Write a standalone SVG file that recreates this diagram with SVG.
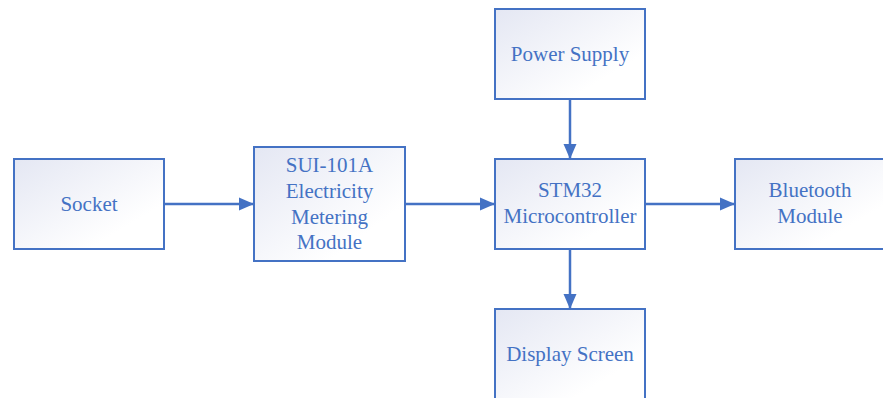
<svg xmlns="http://www.w3.org/2000/svg" width="883" height="398" viewBox="0 0 883 398">
<defs>
<linearGradient id="g" x1="0" y1="0" x2="1" y2="1">
<stop offset="0" stop-color="#e4e7f3"/>
<stop offset="0.75" stop-color="#ffffff"/>
</linearGradient>
<marker id="ah" markerUnits="userSpaceOnUse" markerWidth="15" markerHeight="15" viewBox="0 0 15 15" refX="15" refY="7.5" orient="auto">
<path d="M0,1 L15,7.5 L0,14 Z" fill="#4472c4"/>
</marker>
<style>
.box{fill:url(#g);stroke:#4472c4;stroke-width:2}
.t{font-family:"Liberation Serif","Times New Roman",serif;font-size:21px;fill:#4472c4;text-anchor:middle}
.c{stroke:#4472c4;stroke-width:2.5;fill:none;marker-end:url(#ah)}
</style>
</defs>
<rect width="883" height="398" fill="#ffffff"/>
<g id="socket"><rect class="box" x="14" y="159" width="150" height="90"/><text class="t" x="89" y="211">Socket</text></g>
<g id="sui"><rect class="box" x="254" y="147" width="151" height="114"/>
<text class="t" x="329.5" y="172">SUI-101A</text><text class="t" x="329.5" y="198">Electricity</text><text class="t" x="329.5" y="224">Metering</text><text class="t" x="329.5" y="249">Module</text></g>
<g id="power"><rect class="box" x="495" y="9" width="150" height="90"/><text class="t" x="570" y="61">Power Supply</text></g>
<g id="stm32"><rect class="box" x="495" y="159" width="150" height="90"/><text class="t" x="570" y="197">STM32</text><text class="t" x="570" y="223">Microcontroller</text></g>
<g id="bluetooth"><rect class="box" x="735" y="159" width="152" height="90"/><text class="t" x="810" y="197">Bluetooth</text><text class="t" x="810" y="223">Module</text></g>
<g id="display"><rect class="box" x="495" y="309" width="150" height="92"/><text class="t" x="570" y="361">Display Screen</text></g>
<g id="connectors">
<line class="c" x1="164" y1="204" x2="254" y2="204"/>
<line class="c" x1="405" y1="204" x2="495" y2="204"/>
<line class="c" x1="645" y1="204" x2="735" y2="204"/>
<line class="c" x1="570" y1="99" x2="570" y2="159"/>
<line class="c" x1="570" y1="249" x2="570" y2="309"/>
</g>
</svg>
